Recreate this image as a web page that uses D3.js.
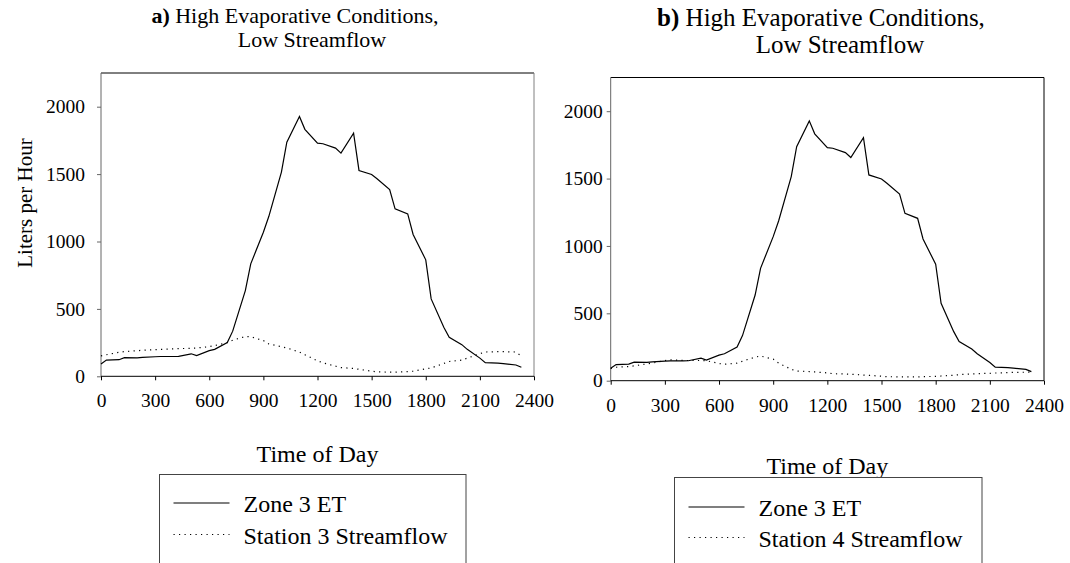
<!DOCTYPE html>
<html>
<head>
<meta charset="utf-8">
<script src="https://cdn.jsdelivr.net/npm/d3@7"></script>
<style>
  html, body { margin: 0; padding: 0; background: #fff; }
  svg { display: block; font-family: "Liberation Serif", "Times New Roman", serif; }
</style>
</head>
<body>
<svg id="chart" width="1070" height="563"></svg>
<script>
// Sample times (HHMM, plotted on a linear 0-2400 axis)
const times = [0, 30, 100, 130, 200, 230, 300, 330, 400, 430, 500, 530, 600, 630, 700, 730,
  800, 830, 900, 930, 1000, 1030, 1100, 1130, 1200, 1230, 1300, 1330, 1400, 1430, 1500, 1530,
  1600, 1630, 1700, 1730, 1800, 1830, 1900, 1930, 2000, 2030, 2100, 2130, 2200, 2230, 2300, 2330];

// Zone 3 evapotranspiration, liters per hour
const zone3ET = [92, 120, 123, 138, 136, 140, 145, 147, 147, 148, 167, 153, 190, 200, 250, 335,
  636, 834, 1069, 1185, 1515, 1737, 1928, 1832, 1730, 1725, 1693, 1656, 1804, 1527, 1497, 1465,
  1385, 1242, 1205, 1052, 864, 574, 364, 290, 235, 200, 135, 101, 97, 94, 84, 67];

// Station 3 streamflow, liters per hour
const station3Flow = [151, 160, 178, 183, 190, 193, 198, 200, 203, 205, 208, 210, 220, 228, 250, 268,
  295, 293, 265, 240, 220, 210, 180, 160, 115, 100, 75, 65, 58, 52, 38, 33,
  31, 31, 35, 38, 55, 62, 95, 110, 120, 135, 168, 180, 183, 183, 180, 150];

// Station 4 streamflow, liters per hour
const station4Flow = [90, 100, 105, 110, 125, 130, 150, 155, 150, 150, 150, 148, 128, 122, 130, 145,
  175, 183, 160, 130, 85, 72, 68, 65, 58, 52, 50, 48, 42, 40, 33, 30,
  28, 28, 28, 30, 32, 35, 40, 45, 50, 52, 55, 57, 60, 62, 63, 65];

const xTicks = [0, 300, 600, 900, 1200, 1500, 1800, 2100, 2400];
const yTicks = [0, 500, 1000, 1500, 2000];
const xDomain = [0, 2400];
const yDomain = [0, 2250];

const svg = d3.select("#chart");

function drawPanel(p) {
  const x = d3.scaleLinear().domain(xDomain).range([p.left, p.right]);
  const y = d3.scaleLinear().domain(yDomain).range([p.bottom, p.top]);
  const g = svg.append("g");

  // plot frame: top and right edges
  g.append("line").attr("x1", p.left).attr("x2", p.right).attr("y1", p.top).attr("y2", p.top)
    .attr("stroke", "#000").attr("stroke-width", 1);
  g.append("line").attr("x1", p.right).attr("x2", p.right).attr("y1", p.top).attr("y2", p.bottom)
    .attr("stroke", p.rightColor).attr("stroke-width", 1);

  // y axis
  const yAxis = g.append("g").attr("transform", `translate(${p.left},0)`)
    .call(d3.axisLeft(y).tickValues(yTicks).tickSize(4).tickPadding(p.yPad).tickFormat(d3.format("d")));
  yAxis.select(".domain").attr("stroke", "#666").attr("d", `M0,${p.top}V${p.bottom}`);
  yAxis.selectAll(".tick line").attr("stroke", "#666");
  yAxis.selectAll("text").attr("font-size", p.tickSize).attr("fill", "#000")
    .attr("font-family", "Liberation Serif, Times New Roman, serif");

  // x axis
  const xAxis = g.append("g").attr("transform", `translate(0,${p.bottom})`)
    .call(d3.axisBottom(x).tickValues(xTicks).tickSize(4).tickPadding(13).tickFormat(d3.format("d")));
  xAxis.select(".domain").attr("stroke", "#000").attr("d", `M${p.left},0H${p.right}`);
  xAxis.selectAll(".tick line").attr("stroke", "#000");
  xAxis.selectAll("text").attr("font-size", p.tickSize).attr("fill", "#000")
    .attr("font-family", "Liberation Serif, Times New Roman, serif");

  const line = d3.line().x((d, i) => x(times[i])).y(d => y(d));

  g.append("path").datum(p.flow).attr("d", line)
    .attr("fill", "none").attr("stroke", "#000").attr("stroke-width", 1.2)
    .attr("stroke-dasharray", "1.2,4.3");
  g.append("path").datum(zone3ET).attr("d", line)
    .attr("fill", "none").attr("stroke", "#000").attr("stroke-width", 1.2)
    .attr("stroke-linejoin", "miter");

  // title
  const t1 = g.append("text").attr("x", p.title1X).attr("y", p.title1Y)
    .attr("text-anchor", "middle").attr("font-size", p.titleSize);
  t1.append("tspan").attr("font-weight", "bold").text(p.letter + ")");
  t1.append("tspan").text(" High Evaporative Conditions,");
  g.append("text").attr("x", p.title2X).attr("y", p.title2Y)
    .attr("text-anchor", "middle").attr("font-size", p.titleSize).text("Low Streamflow");

  // x axis title
  g.append("text").attr("x", (p.left + p.right) / 2).attr("y", p.xTitleY)
    .attr("text-anchor", "middle").attr("font-size", 24).text("Time of Day");

  // legend
  const lg = g.append("g");
  lg.append("rect").attr("x", p.legX).attr("y", p.legY).attr("width", p.legW).attr("height", 120)
    .attr("fill", "#fff").attr("stroke", "#444").attr("stroke-width", 1);
  const rows = [
    { label: "Zone 3 ET", dash: null },
    { label: p.flowLabel, dash: "1.2,4.3" }
  ];
  rows.forEach((r, i) => {
    const ly = p.legRow1 + i * p.legGap;
    lg.append("line").attr("x1", p.legX + 14).attr("x2", p.legX + 70)
      .attr("y1", ly).attr("y2", ly).attr("stroke", "#000").attr("stroke-width", 1.2)
      .attr("stroke-dasharray", r.dash);
    lg.append("text").attr("x", p.legX + 84).attr("y", ly + 9)
      .attr("font-size", 24).text(r.label);
  });
}

drawPanel({
  letter: "a", flow: station3Flow, flowLabel: "Station 3 Streamflow",
  left: 101, right: 534, top: 73, bottom: 376.3, rightColor: "#808080",
  tickSize: 19.5, yPad: 12,
  titleSize: 22, title1X: 295, title1Y: 23, title2X: 312, title2Y: 47,
  xTitleY: 462,
  legX: 159.5, legY: 474.5, legW: 306.5, legRow1: 503, legGap: 31.5
});

drawPanel({
  letter: "b", flow: station4Flow, flowLabel: "Station 4 Streamflow",
  left: 610.7, right: 1044, top: 77.5, bottom: 380.7, rightColor: "#000",
  tickSize: 19.5, yPad: 4,
  titleSize: 25, title1X: 821, title1Y: 26, title2X: 840, title2Y: 53,
  xTitleY: 474,
  legX: 674.5, legY: 477.5, legW: 307.5, legRow1: 507, legGap: 30.5
});

// shared y axis title
svg.append("text")
  .attr("transform", "translate(32,203) rotate(-90)")
  .attr("text-anchor", "middle").attr("font-size", 21).text("Liters per Hour");
</script>
</body>
</html>
